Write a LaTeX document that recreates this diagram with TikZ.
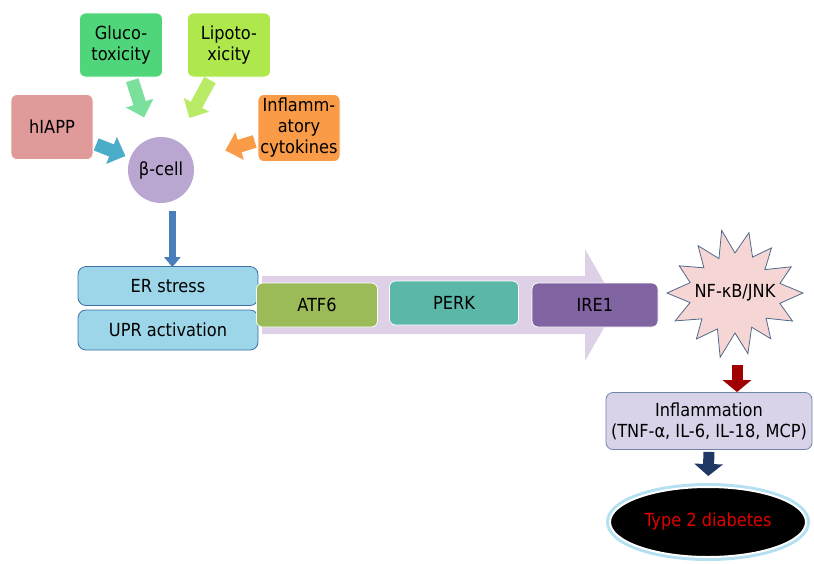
\documentclass[tikz,border=0pt]{standalone}
\usepackage{fontspec}
\setmainfont{DejaVu Sans Condensed}
\usetikzlibrary{arrows.meta,positioning,shapes.geometric}
\definecolor{glucofill}{HTML}{4FD67B}
\definecolor{lipofill}{HTML}{AEE84C}
\definecolor{iappfill}{HTML}{E09A9A}
\definecolor{cytofill}{HTML}{F99B47}
\definecolor{cellfill}{HTML}{B9A7D1}
\definecolor{erfill}{HTML}{9DD6E8}
\definecolor{erline}{HTML}{3E70A2}
\definecolor{atffill}{HTML}{9BBB59}
\definecolor{perkfill}{HTML}{5BB8A8}
\definecolor{irefill}{HTML}{8064A2}
\definecolor{bigfill}{HTML}{DDD0E7}
\definecolor{burstfill}{HTML}{F6D6D4}
\definecolor{burstline}{HTML}{4F6A8A}
\definecolor{inflfill}{HTML}{D9D3EA}
\definecolor{inflline}{HTML}{6D83A8}
\definecolor{glow}{HTML}{B4E0F2}
\definecolor{diabred}{HTML}{E00000}
\definecolor{downblue}{HTML}{4A7EBB}
\definecolor{navy}{HTML}{1F3864}
\definecolor{darkred}{HTML}{A00000}
\definecolor{iaparrow}{HTML}{4BADC9}

\begin{document}
\begin{tikzpicture}
	[x=1pt,y=-1pt]
	\tikzset{font=\fontsize{18}{21}\selectfont, inner sep=0pt}
	\tikzstyle{cause}=[rectangle,rounded corners=6pt,draw=white,thick,minimum width=82pt,minimum height=65pt,align=center]
	\tikzstyle{erbox}=[rectangle,rounded corners=8pt,draw=erline,thick,fill=erfill,minimum width=180pt,minimum height=39pt]
	\tikzstyle{branch}=[rectangle,rounded corners=6pt,draw=white,thick,minimum height=44pt]
	\tikzstyle{fat}=[line width=13pt,-{Triangle[width=28pt,length=15pt]},shorten <=3pt]
	\tikzstyle{slim}=[line width=7pt,-{Triangle[width=16pt,length=10pt]}]
	\tikzstyle{stub}=[line width=11pt,-{Triangle[width=28pt,length=12pt]}]
	\useasboundingbox (0,0) rectangle (814,563);
	% stress factors around the beta cell
	\node [circle,fill=cellfill,minimum size=66pt] (cell) at (161,170) {β-cell};
	\node [cause,fill=glucofill,minimum width=83pt,minimum height=64pt] (gluco) at (121,45) {Gluco-\\toxicity};
	\node [cause,fill=lipofill,minimum width=83pt,minimum height=64pt] (lipo) at (229,45) {Lipoto-\\xicity};
	\node [cause,fill=iappfill] (iapp) at (52,127) {hIAPP};
	\node [cause,fill=cytofill,minimum height=67pt] (cyto) at (299,128) {Inflamm-\\atory\\cytokines};
	\draw[fat,glucofill!75!white,shorten >=22pt] (gluco) -- (cell);
	\draw[fat,lipofill!85!white,shorten >=26pt] (lipo) -- (cell);
	\draw[fat,iaparrow,shorten >=5pt] (iapp) -- (cell);
	\draw[fat,cytofill,shorten >=34pt] (cyto) -- (cell);
	% ER stress and the three UPR branches
	\node [erbox] (er) at (168,286) {ER stress};
	\node [erbox,minimum height=40pt] (upr) at (168,330) {UPR activation};
	\draw[slim,downblue,shorten <=10pt] (cell.-70) -- ([yshift=-1pt]er.north -| cell.-70);
	\fill[bigfill] (262,276) -- (585,276) -- (585,249) -- (617,305) -- (585,361) -- (585,334) -- (262,334) -- cycle;
	\node [branch,fill=atffill,minimum width=121pt] (atf) at (317,305) {ATF6};
	\node [branch,fill=perkfill,minimum width=129pt] (perk) at (454,303) {PERK};
	\node [branch,fill=irefill,minimum width=126pt] (ire) at (595,305) {IRE1};
	% inflammation and type 2 diabetes
	\coordinate (nc) at (735,293);
	\filldraw[fill=burstfill,draw=burstline,thick] ([shift={(nc)}]0:68)
		\foreach \a/\r in {13/46,26/64,39/40,52/58,64/38,78/62,90/40,103/66,116/40,130/60,142/42,155/66,168/46,180/68,193/46,206/62,219/40,232/60,245/38,258/64,270/40,283/62,296/40,309/58,322/38,335/62,348/46}
		{ -- ([shift={(nc)}]\a:\r) } -- cycle;
	\node (nfkb) at (nc) {NF-κB/JNK};
	\node [rectangle,rounded corners=7pt,draw=inflline,thick,fill=inflfill,minimum width=206pt,minimum height=57pt,align=center] (infl) at (709,421) {Inflammation\\(TNF-α, IL-6, IL-18, MCP)};
	\node [ellipse,fill=black,draw=white,line width=2pt,preaction={draw=glow,line width=8pt},minimum width=196pt,minimum height=70pt,text=diabred] (t2d) at (708,522) {Type 2 diabetes};
	\coordinate (r1) at (737,365);
	\draw[stub,darkred] (r1) -- (infl.north -| r1);
	\draw[stub,navy,shorten <=2pt,shorten >=10pt] (infl.south) -- (t2d.north);
\end{tikzpicture}
\end{document}
